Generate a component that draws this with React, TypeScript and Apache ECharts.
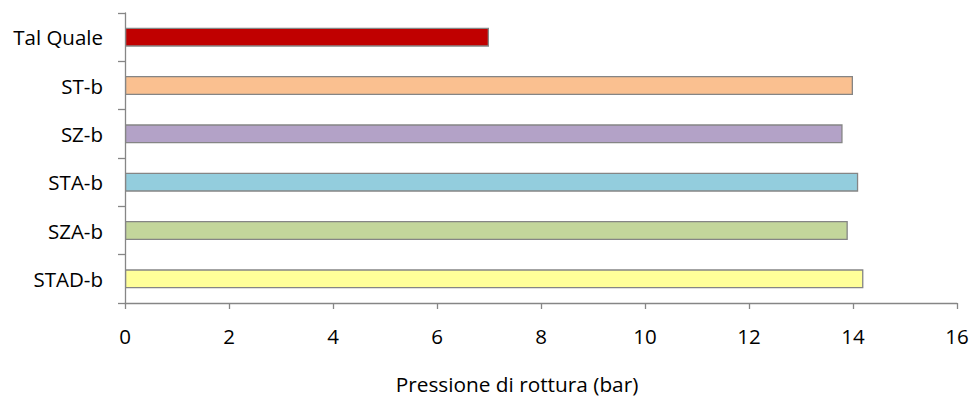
import React, { useEffect, useRef } from "react";
import * as echarts from "echarts";

const categories = ["STAD-b", "SZA-b", "STA-b", "SZ-b", "ST-b", "Tal Quale"];
const values = [14.2, 13.9, 14.1, 13.8, 14.0, 7.0];
const colors = ["#FFFF99", "#C3D69B", "#93CDDD", "#B3A2C7", "#FAC090", "#C00000"];
const xAxisTitle = "Pressione di rottura (bar)";

const FONT = "'Open Sans', sans-serif";

export default function App() {
  const ref = useRef<HTMLDivElement>(null);
  useEffect(() => {
    if (!ref.current) return;
    const chart = echarts.init(ref.current, undefined, { renderer: "svg" });
    chart.setOption({
      animation: false,
      backgroundColor: "#ffffff",
      grid: { left: 125, right: 18, top: 13, bottom: 89, containLabel: false },
      xAxis: {
        type: "value",
        min: 0,
        max: 16,
        interval: 2,
        name: xAxisTitle,
        nameLocation: "middle",
        nameGap: 70,
        nameTextStyle: { color: "#000", fontFamily: FONT, fontSize: 20.8, padding: [0, 48, 0, 0] },
        axisLine: { show: true, lineStyle: { color: "#868686", width: 1.3 } },
        axisTick: { show: true, length: 6, lineStyle: { color: "#868686", width: 1.3 } },
        axisLabel: { color: "#000", fontFamily: FONT, fontSize: 20.5, margin: 22 },
        splitLine: { show: false },
      },
      yAxis: {
        type: "category",
        data: categories,
        axisLine: { show: true, lineStyle: { color: "#868686", width: 1.3 } },
        axisTick: { show: true, length: 7, lineStyle: { color: "#868686", width: 1.3 } },
        axisLabel: { color: "#000", fontFamily: FONT, fontSize: 20.5, margin: 22 },
      },
      series: [
        {
          type: "bar",
          barWidth: 19,
          data: values.map((v, i) => ({
            value: v,
            itemStyle: { color: colors[i], borderColor: "#858585", borderWidth: 1.3 },
          })),
        },
      ],
    });
    return () => chart.dispose();
  }, []);
  return (
    <div
      ref={ref}
      style={{ position: "fixed", left: 0, top: 0, width: 975, height: 399 }}
    />
  );
}
